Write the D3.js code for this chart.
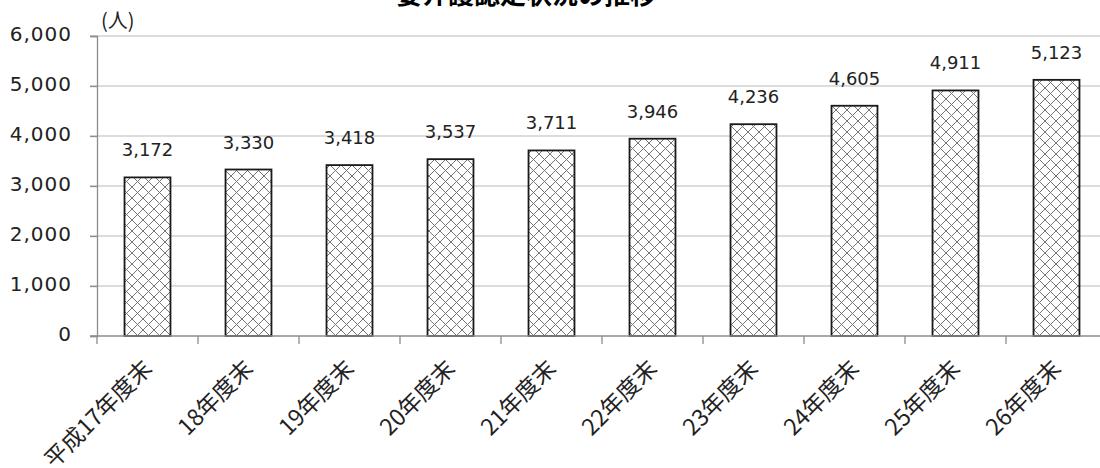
<!DOCTYPE html>
<html>
<head>
<meta charset="utf-8">
<script src="https://cdn.jsdelivr.net/npm/d3@7"></script>
<style>
  body { margin: 0; background: #fff; }
  svg { display: block; }
  .num { font-family: "DejaVu Sans", Verdana, sans-serif; fill: #222; }
  .jp { font-family: "Noto Sans CJK JP", sans-serif; fill: #222; }
</style>
</head>
<body>
<div id="chart"></div>
<script>
// chart data
var categories = ["平成17年度末", "18年度末", "19年度末", "20年度末", "21年度末",
                  "22年度末", "23年度末", "24年度末", "25年度末", "26年度末"];
var values = [3172, 3330, 3418, 3537, 3711, 3946, 4236, 4605, 4911, 5123];
var yTicks = [0, 1000, 2000, 3000, 4000, 5000, 6000];
var title = "要介護認定状況の推移";
var unitLabel = "(人)";

var width = 1100;
var height = 468;
var margin = { top: 36, left: 97, right: -7, bottom: 132 };

var svg = d3.select("#chart")
    .append("svg")
    .attr("width", width)
    .attr("height", height);

// crosshatch fill like the Excel pattern
var pat = svg.append("defs").append("pattern")
    .attr("id", "hatch")
    .attr("patternUnits", "userSpaceOnUse")
    .attr("width", 11)
    .attr("height", 11);
pat.append("rect").attr("width", 11).attr("height", 11).attr("fill", "#fff");
pat.append("path")
    .attr("d", "M0,0L11,11M0,11L11,0M-1,1L1,-1M10,12L12,10M-1,10L1,12M10,-1L12,1")
    .attr("stroke", "#767676")
    .attr("stroke-width", 1);

var xScale = d3.scaleBand()
    .domain(categories)
    .range([margin.left, width - margin.right])
    .paddingInner(0.545)
    .paddingOuter(0.2725);

var yScale = d3.scaleLinear()
    .domain([0, 6000])
    .range([height - margin.bottom, margin.top]);

// gridlines
svg.append("g")
    .selectAll("line")
    .data(yTicks.filter(function(d) { return d > 0; }))
    .enter()
    .append("line")
    .attr("x1", margin.left - 7)
    .attr("x2", width - margin.right)
    .attr("y1", function(d) { return yScale(d); })
    .attr("y2", function(d) { return yScale(d); })
    .attr("stroke", "#d0d0d0")
    .attr("stroke-width", 1.3);

// y axis
var yAxis = svg.append("g")
    .attr("transform", `translate(${margin.left},0)`)
    .call(d3.axisLeft(yScale).tickValues(yTicks).tickSize(7).tickPadding(18).tickFormat(d3.format(",")));
yAxis.select(".domain").attr("stroke", "#8c8c8c").attr("stroke-width", 1.3);
yAxis.selectAll(".tick line").attr("stroke", "#8c8c8c").attr("stroke-width", 1.3);
yAxis.selectAll(".tick text")
    .attr("class", "num")
    .attr("dy", "0.23em")
    .style("font-size", "20px")
    .style("letter-spacing", "1px");

// bars
svg.selectAll("rect.bar")
    .data(values)
    .enter()
    .append("rect")
    .attr("class", "bar")
    .attr("x", function(d, i) { return xScale(categories[i]); })
    .attr("y", function(d) { return yScale(d); })
    .attr("width", xScale.bandwidth())
    .attr("height", function(d) { return yScale(0) - yScale(d); })
    .attr("fill", "url(#hatch)")
    .attr("stroke", "#1a1a1a")
    .attr("stroke-width", 1.8);

// x axis line and boundary ticks
var xAxis = svg.append("g");
xAxis.append("line")
    .attr("x1", margin.left - 7)
    .attr("x2", width - margin.right)
    .attr("y1", yScale(0))
    .attr("y2", yScale(0))
    .attr("stroke", "#8c8c8c")
    .attr("stroke-width", 1.3);
xAxis.selectAll("line.tk")
    .data(d3.range(categories.length + 1))
    .enter()
    .append("line")
    .attr("class", "tk")
    .attr("x1", function(i) { return margin.left + i * xScale.step(); })
    .attr("x2", function(i) { return margin.left + i * xScale.step(); })
    .attr("y1", yScale(0))
    .attr("y2", yScale(0) + 8)
    .attr("stroke", "#8c8c8c")
    .attr("stroke-width", 1.3);

xAxis.selectAll("text")
    .data(categories)
    .enter()
    .append("text")
    .attr("class", "jp")
    .attr("text-anchor", "end")
    .attr("transform", function(d) {
        var cx = xScale(d) + xScale.bandwidth() / 2 + 6;
        return `translate(${cx},${yScale(0) + 34}) rotate(-45)`;
    })
    .style("font-size", "23px")
    .text(function(d) { return d; });

// value labels
svg.selectAll("text.val")
    .data(values)
    .enter()
    .append("text")
    .attr("class", "num val")
    .attr("text-anchor", "middle")
    .attr("x", function(d, i) { return xScale(categories[i]) + xScale.bandwidth() / 2; })
    .attr("y", function(d) { return yScale(d) - 21; })
    .style("font-size", "18px")
    .text(function(d) { return d3.format(",")(d); });

// unit + title
svg.append("text")
    .attr("class", "jp")
    .attr("x", 101)
    .attr("y", 28)
    .style("font-size", "20px")
    .text(unitLabel);

svg.append("text")
    .attr("class", "jp")
    .attr("x", 526)
    .attr("y", 4)
    .attr("text-anchor", "middle")
    .style("font-size", "26px")
    .style("font-weight", "bold")
    .style("fill", "#000")
    .text(title);
</script>
</body>
</html>
